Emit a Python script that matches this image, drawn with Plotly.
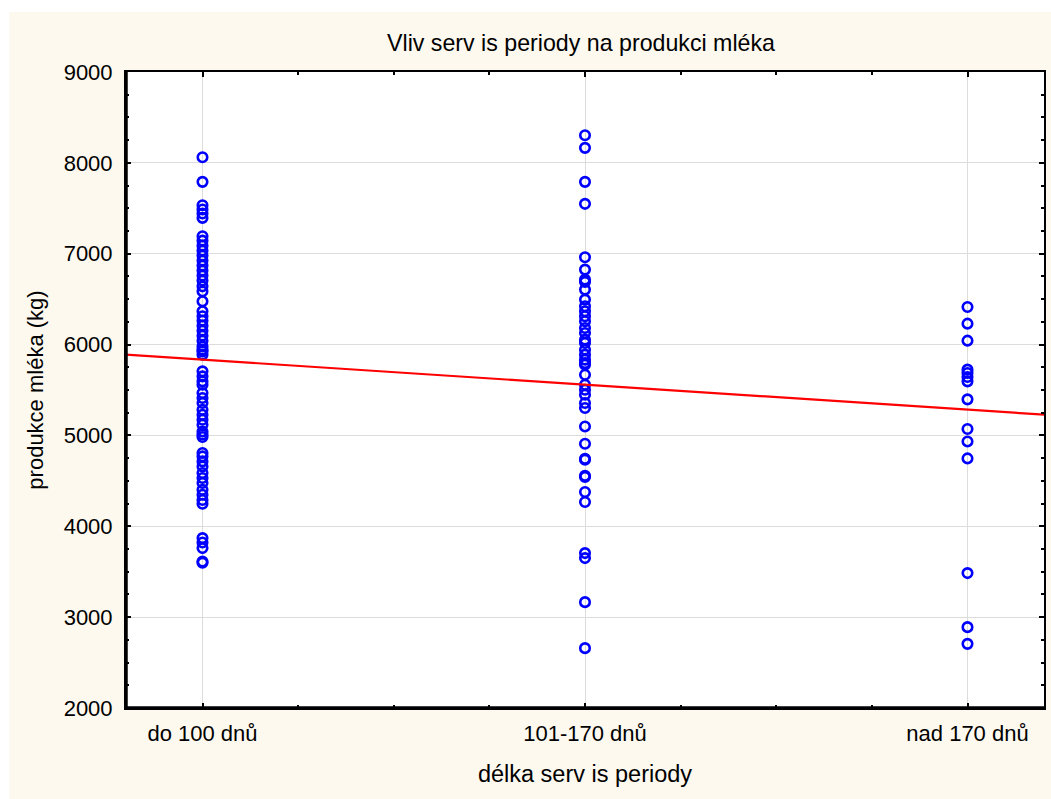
import plotly.graph_objects as go

# Milk production (kg) per cow, grouped by length of the service period
categories = ["do 100 dnů", "101-170 dnů", "nad 170 dnů"]

milk_do_100 = [8062, 7791, 7533, 7486, 7442, 7394, 7192, 7144, 7089, 7034,
               6979, 6924, 6869, 6814, 6759, 6704, 6641, 6586, 6476, 6366,
               6311, 6263, 6208, 6153, 6098, 6043, 5980, 5944, 5925, 5889,
               5705, 5650, 5595, 5558, 5467, 5412, 5357, 5283, 5228, 5173,
               5118, 5044, 5010, 4982, 4806, 4769, 4714, 4659, 4586, 4531,
               4476, 4402, 4347, 4290, 4248, 3870, 3822, 3760, 3612, 3600]

milk_101_170 = [8304, 8165, 7791, 7549, 6961, 6825, 6715, 6690, 6605, 6495,
                6421, 6366, 6311, 6256, 6183, 6128, 6054, 6018, 5944, 5889,
                5834, 5797, 5779, 5668, 5558, 5503, 5448, 5357, 5302, 5099,
                4909, 4744, 4733, 4556, 4542, 4377, 4267, 3705, 3650, 3165,
                2659]

milk_nad_170 = [6414, 6230, 6043, 5724, 5687, 5643, 5595, 5397, 5071, 4934,
                4747, 3485, 2890, 2706]

# Linear fit of production against the period group code (0, 1, 2)
fit_intercept = 5834
fit_slope = -275
fit_x = [-0.2, 2.2]

y_ticks = [2000, 3000, 4000, 5000, 6000, 7000, 8000, 9000]

groups = [milk_do_100, milk_101_170, milk_nad_170]
xs, ys = [], []
for code, vals in enumerate(groups):
    xs += [code] * len(vals)
    ys += vals

FONT = "Liberation Sans, Arial, sans-serif"
CREAM = "#fdf9ef"

fig = go.Figure()
fig.add_trace(go.Scatter(
    x=xs, y=ys, mode="markers",
    marker=dict(symbol="circle-open", size=9.5, color="#0000ff",
                line=dict(width=2.6, color="#0000ff")),
    showlegend=False, hoverinfo="x+y",
))
fig.add_trace(go.Scatter(
    x=fit_x, y=[fit_intercept + fit_slope * v for v in fit_x],
    mode="lines", line=dict(color="#ff0000", width=2.2),
    showlegend=False, hoverinfo="skip",
))

W, H = 1051, 799
ML, MR, MT, MB = 126, 5, 72, 91
pw, ph = W - ML - MR, H - MT - MB

shapes = [
    # white page strips above and left of the cream panel
    dict(type="rect", xref="paper", yref="paper", layer="below",
         x0=-0.3, x1=1.2, y0=1 + (MT - 12) / ph, y1=1.3,
         fillcolor="white", line=dict(width=0)),
    dict(type="rect", xref="paper", yref="paper", layer="below",
         x0=-0.3, x1=(9 - ML) / pw, y0=-0.3, y1=1.3,
         fillcolor="white", line=dict(width=0)),
    # heavier left and bottom frame lines
    dict(type="line", xref="paper", yref="paper", x0=0, x1=0, y0=0, y1=1,
         line=dict(color="black", width=3.5)),
    dict(type="line", xref="paper", yref="paper", x0=0, x1=1, y0=0, y1=0,
         line=dict(color="black", width=3.5)),
]

fig.update_layout(
    width=W, height=H,
    margin=dict(l=ML, r=MR, t=MT, b=MB),
    paper_bgcolor=CREAM, plot_bgcolor="white",
    font=dict(family=FONT, color="black"),
    title=dict(text="Vliv serv is periody na produkci mléka",
               x=581 / W, xanchor="center", xref="container",
               y=1 - 43 / H, yanchor="middle", yref="container",
               font=dict(size=23.2, family=FONT, color="black")),
    shapes=shapes,
)

fig.update_xaxes(
    range=[-0.2, 2.2], tickmode="array", tickvals=[0, 1, 2], ticktext=categories,
    showgrid=True, gridcolor="#dcdcdc", gridwidth=1, zeroline=False,
    showline=True, linecolor="black", linewidth=2, mirror="allticks",
    ticks="inside", ticklen=5, tickwidth=2, tickcolor="black",
    tickfont=dict(size=22, family=FONT), ticklabelstandoff=5,
    minor=dict(tickmode="linear", tick0=0, dtick=0.25, ticks="inside",
               ticklen=3, tickwidth=2, tickcolor="black", showgrid=False),
    title=dict(text="délka serv is periody", standoff=20,
               font=dict(size=23.5, family=FONT)),
)
fig.update_yaxes(
    range=[2000, 9000], tickmode="array", tickvals=y_ticks,
    showgrid=True, gridcolor="#dcdcdc", gridwidth=1, zeroline=False,
    showline=True, linecolor="black", linewidth=2, mirror="allticks",
    ticks="inside", ticklen=5, tickwidth=2, tickcolor="black",
    tickfont=dict(size=22, family=FONT), ticklabelstandoff=7,
    minor=dict(tickmode="linear", tick0=2000, dtick=250, ticks="inside",
               ticklen=3, tickwidth=2, tickcolor="black", showgrid=False),
    title=dict(text="produkce mléka (kg)", standoff=14,
               font=dict(size=22, family=FONT)),
)

fig.write_html("out.html")
